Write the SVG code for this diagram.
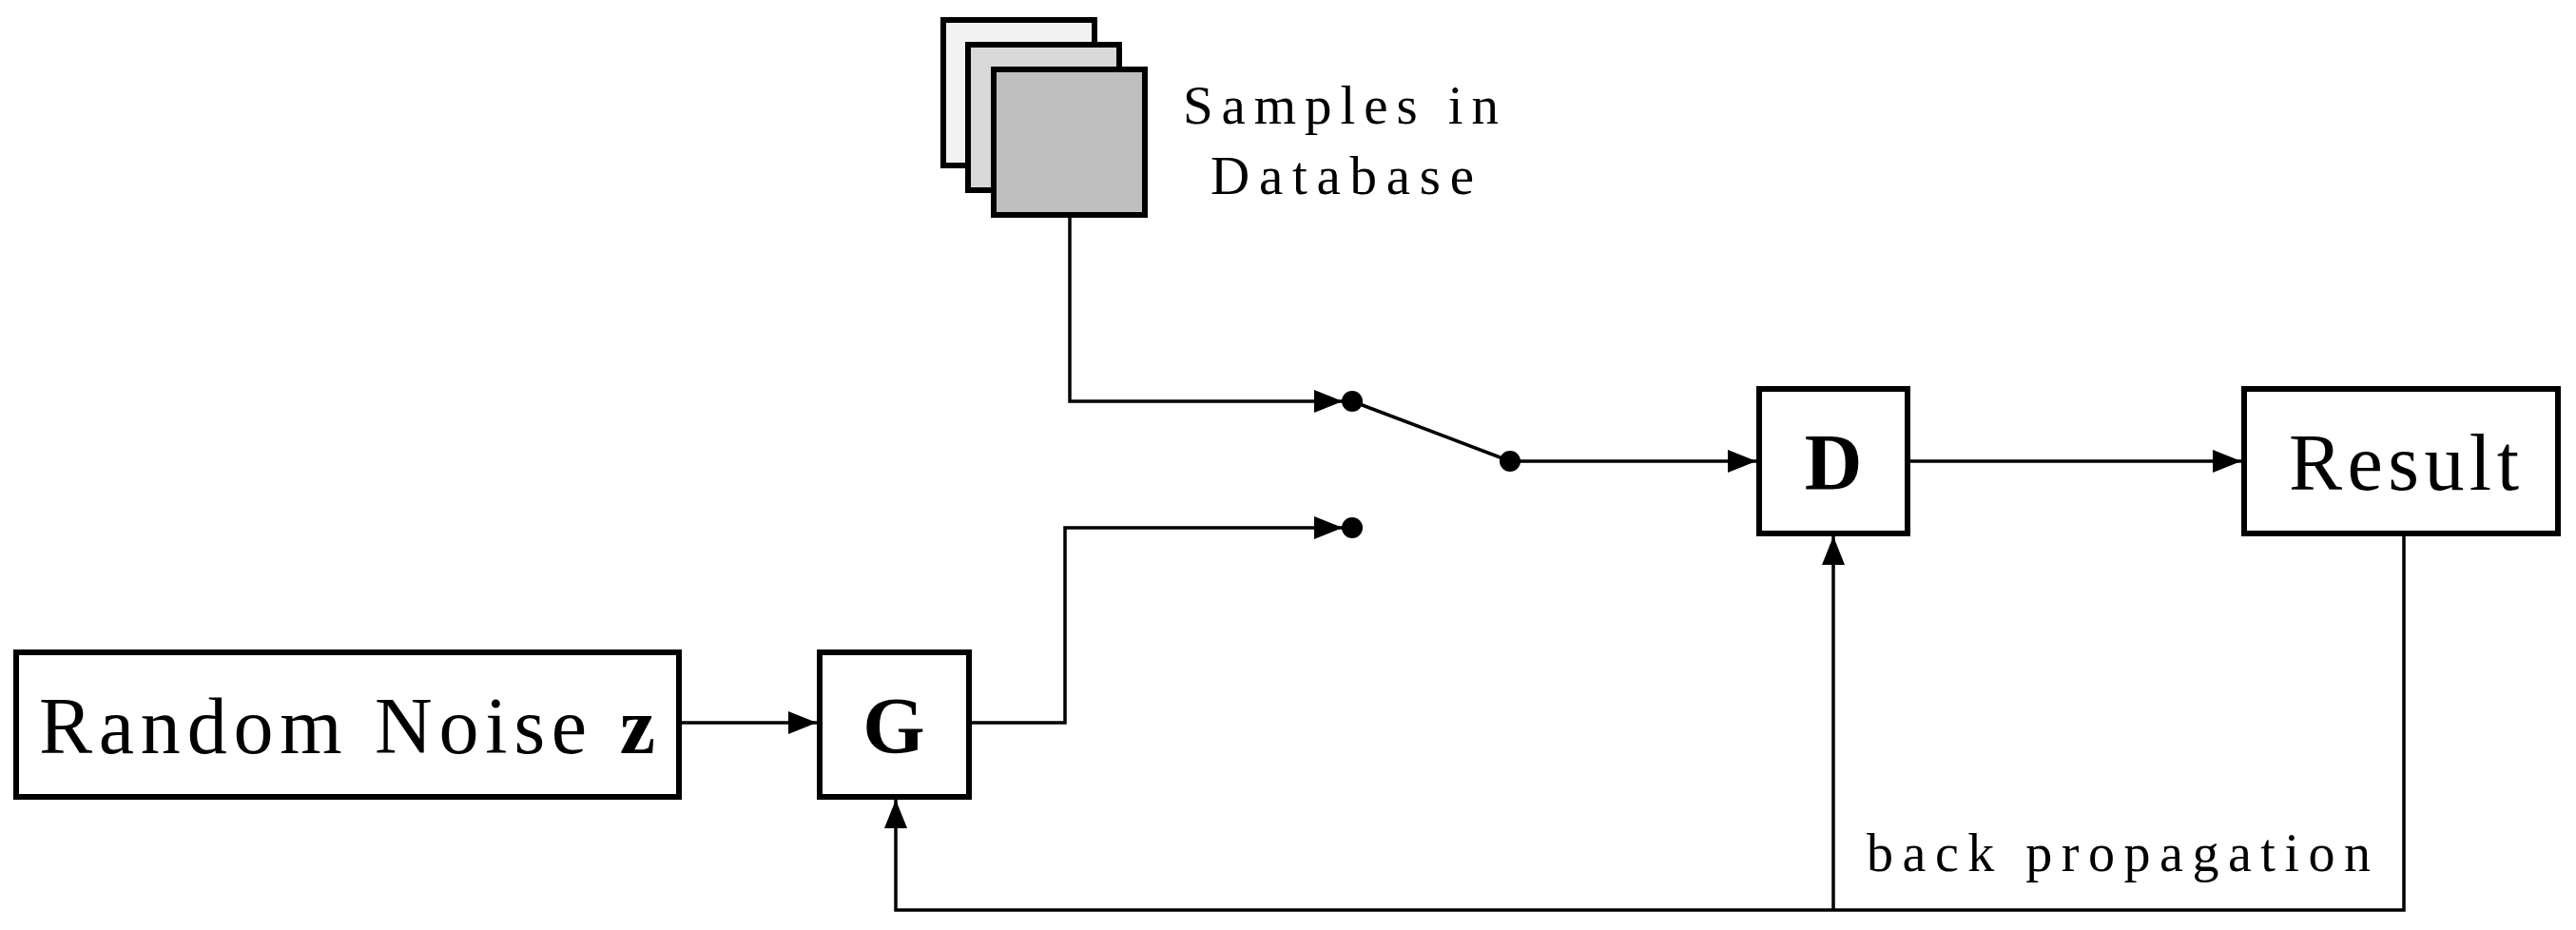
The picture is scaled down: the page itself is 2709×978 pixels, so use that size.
<svg xmlns="http://www.w3.org/2000/svg" width="2709" height="978" viewBox="0 0 2709 978">
<style>
.box{fill:#fff;stroke:#000;stroke-width:6}
.ln{fill:none;stroke:#000;stroke-width:3.5}
text{font-family:"Liberation Serif","DejaVu Serif",serif;fill:#000}
</style>
<defs>
<marker id="ar" viewBox="0 0 10 10" refX="10" refY="5" markerWidth="10" markerHeight="10" markerUnits="userSpaceOnUse" orient="auto"><path d="M0,0L10,5L0,10z"/></marker>
<marker id="a" viewBox="0 0 30 24" refX="30" refY="12" markerWidth="30" markerHeight="24" markerUnits="userSpaceOnUse" orient="auto"><path d="M0,0L30,12L0,24z"/></marker>
</defs>
<rect width="2709" height="978" fill="#fff"/>
<g id="db">
<rect class="box" x="992" y="21" width="159" height="153" fill="#f2f2f2" style="fill:#f2f2f2"/>
<rect class="box" x="1018" y="47" width="159" height="153" style="fill:#d9d9d9"/>
<rect class="box" x="1045" y="73" width="159" height="153" style="fill:#bfbfbf"/>
<text x="1244" y="130" font-size="57" textLength="332">Samples in</text>
<text x="1273" y="204" font-size="57" textLength="277">Database</text>
</g>
<g id="noise"><rect class="box" x="17" y="686" width="697" height="152"/>
<text x="41" y="792" font-size="84" textLength="648">Random Noise <tspan font-weight="bold">z</tspan></text></g>
<g id="G"><rect class="box" x="862" y="686" width="157" height="152"/>
<text x="940" y="792" font-size="84" font-weight="bold" text-anchor="middle">G</text></g>
<g id="D"><rect class="box" x="1850" y="409" width="156" height="152"/>
<text x="1928" y="515" font-size="84" font-weight="bold" text-anchor="middle">D</text></g>
<g id="result"><rect class="box" x="2360" y="409" width="330" height="152"/>
<text x="2407" y="515" font-size="84" textLength="242">Result</text></g>
<g id="connectors">
<path class="ln" d="M1125,226V422H1412" marker-end="url(#a)"/>
<path class="ln" d="M1019,760H1120V555H1412" marker-end="url(#a)"/>
<path class="ln" d="M714,760H859" marker-end="url(#a)"/>
<path class="ln" d="M1422,422L1588,485"/>
<path class="ln" d="M1588,485H1847" marker-end="url(#a)"/>
<path class="ln" d="M2006,485H2357" marker-end="url(#a)"/>
<path class="ln" d="M2528,561V957H942V841" marker-end="url(#a)"/>
<path class="ln" d="M1928,957V564" marker-end="url(#a)"/>
<circle cx="1422" cy="422" r="11"/>
<circle cx="1422" cy="555" r="11"/>
<circle cx="1588" cy="485" r="11"/>
<text x="1963" y="916" font-size="56" textLength="530">back propagation</text>
</g>
</svg>
